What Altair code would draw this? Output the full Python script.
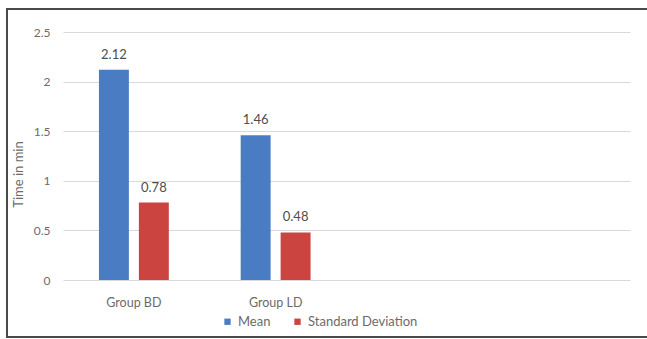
import altair as alt
import pandas as pd

# Grouped bar chart: mean and standard deviation of time (min) per group
groups = ["Group BD", "Group LD"]
series = ["Mean", "Standard Deviation"]
mean_vals = [2.12, 1.46]
sd_vals = [0.78, 0.48]
x_domain = ["Group BD", "Group LD", " ", "  "]
colors = ["#4A7CC4", "#CB4440"]
y_ticks = [0, 0.5, 1, 1.5, 2, 2.5]

rows = []
for g, m, s in zip(groups, mean_vals, sd_vals):
    rows.append({"group": g, "series": series[0], "value": m})
    rows.append({"group": g, "series": series[1], "value": s})
df = pd.DataFrame(rows)

FONT = "Lato"
GRAY = "#6b6b6b"

W, H = 567, 248

x_scale = alt.Scale(domain=x_domain, paddingInner=0, paddingOuter=0)
off_scale = alt.Scale(domain=series, paddingInner=0.25, paddingOuter=0.9)

x_enc = alt.X(
    "group:N",
    scale=x_scale,
    axis=alt.Axis(title=None, labelAngle=0, domain=False, ticks=False,
                  labelPadding=16, labelFontSize=12.5, labelColor=GRAY, labelFont=FONT),
)
y_enc = alt.Y(
    "value:Q",
    scale=alt.Scale(domain=[0, 2.5], nice=False),
    axis=alt.Axis(title="Time in min", values=y_ticks, format="~g",
                  domain=False, ticks=False, grid=True, gridColor="#d9d9d9",
                  labelPadding=13, labelFontSize=12, labelColor=GRAY, labelFont=FONT,
                  titleFontSize=13, titleColor=GRAY, titleFont=FONT,
                  titleFontWeight="normal", titlePadding=8, titleY=142),
)

base = alt.Chart(df)

bars = base.mark_bar().encode(
    x=x_enc,
    xOffset=alt.XOffset("series:N", scale=off_scale),
    y=y_enc,
    color=alt.Color(
        "series:N",
        scale=alt.Scale(domain=series, range=colors),
        legend=alt.Legend(title=None, orient="none", direction="horizontal",
                          legendX=158, legendY=283, symbolType="square",
                          symbolSize=40, symbolStrokeWidth=0, labelFontSize=13,
                          labelColor=GRAY, labelFont=FONT, columnPadding=20,
                          labelOffset=4),
    ),
)

labels = base.mark_text(baseline="bottom", dy=-8, fontSize=13, color="#4d4d4d",
                        font=FONT).encode(
    x=alt.X("group:N", scale=x_scale),
    xOffset=alt.XOffset("series:N", scale=off_scale),
    y=alt.Y("value:Q"),
    text=alt.Text("value:Q", format=".2f"),
)

# outer frame around the whole figure
frame = alt.Chart(pd.DataFrame({"k": [0]})).mark_rect(
    fill=None, stroke="#4a4a4a", strokeWidth=2, clip=False
).encode(
    x=alt.value(-56), x2=alt.value(W + 80),
    y=alt.value(-23), y2=alt.value(H + 57),
)

chart = alt.layer(frame, bars, labels).properties(
    width=W, height=H,
    autosize=alt.AutoSizeParams(type="none"),
    padding={"left": 63, "top": 32, "right": 17, "bottom": 59},
    background="white",
).configure_view(stroke=None)

chart.save("out.html", embed_options={"renderer": "svg", "actions": False})
